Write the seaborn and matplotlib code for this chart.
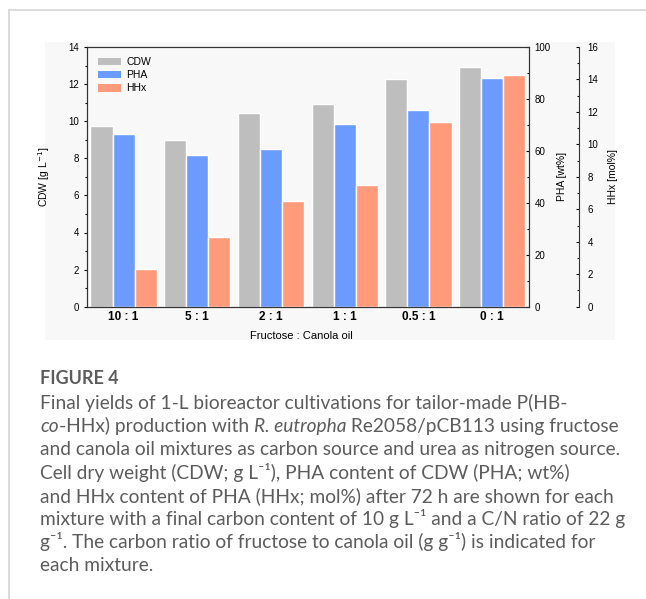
import matplotlib.pyplot as plt
import pandas as pd
import seaborn as sns
from matplotlib.lines import Line2D
from matplotlib.patches import Patch, Rectangle

razoes = ['10 : 1', '5 : 1', '2 : 1', '1 : 1', '0.5 : 1', '0 : 1']
series = ['CDW', 'PHA', 'HHx']
cdw = [9.75, 9.0, 10.45, 10.95, 12.3, 12.9]        # g L-1
pha = [66.5, 58.6, 60.6, 70.4, 75.7, 88.0]         # wt%
hhx = [2.3, 4.3, 6.5, 7.5, 11.4, 14.3]             # mol%
cores = {'CDW': '#bebebe', 'PHA': '#6b9bff', 'HHx': '#ff9a7a'}

dados = pd.DataFrame({
    'razao': razoes * 3,
    'serie': [s for s in series for _ in razoes],
    'valor': cdw + pha + hhx,
})

plt.rcParams['font.family'] = ['Liberation Sans', 'DejaVu Sans']
plt.rcParams['axes.linewidth'] = 0.8

fig = plt.figure(figsize=(6.46, 5.99), dpi=100)

# fundo cinza da imagem e bordas da pagina
fig.add_artist(Rectangle((45 / 646, 1 - 340 / 599), 570 / 646, 298 / 599,
                         transform=fig.transFigure, facecolor='#f8f8f8', edgecolor='none', zorder=0))
fig.add_artist(Line2D([9 / 646, 1], [1 - 10 / 599] * 2, transform=fig.transFigure, color='#d6d6d6', lw=1.2))
fig.add_artist(Line2D([9 / 646] * 2, [0, 1 - 10 / 599], transform=fig.transFigure, color='#d6d6d6', lw=1.2))

ax = fig.add_axes([86.7 / 646, 1 - 306.7 / 599, 442.3 / 646, 259.7 / 599])
ax.set_facecolor('none')
ax2 = ax.twinx()
ax3 = ax.twinx()

for eixo, serie in zip([ax, ax2, ax3], series):
    sns.barplot(data=dados[dados['serie'] == serie], x='razao', y='valor', hue='serie',
                hue_order=series, order=razoes, palette=cores, width=0.9, dodge=True,
                saturation=1, edgecolor='white', linewidth=1, legend=False, ax=eixo)

ax.set_xlim(-0.5, 5.5)
ax.set_ylim(0, 14)
ax2.set_ylim(0, 100)
ax3.set_ylim(0, 16)
ax.set_yticks(range(0, 15, 2))
ax.set_yticks(range(0, 15, 1), minor=True)
ax2.set_yticks(range(0, 101, 20))
ax2.set_yticks(range(0, 101, 10), minor=True)
ax3.set_yticks(range(0, 17, 2))
ax3.set_yticks(range(0, 17, 1), minor=True)

ax.tick_params(axis='y', which='major', direction='out', length=2.5, width=0.8, labelsize=7, pad=3)
ax.tick_params(axis='y', which='minor', direction='out', length=1.5, width=0.8)
ax2.tick_params(axis='y', which='major', direction='in', length=2.5, width=0.8, labelsize=7, pad=4)
ax2.tick_params(axis='y', which='minor', direction='in', length=1.5, width=0.8)
ax3.tick_params(axis='y', which='major', direction='in', length=2.5, width=0.8, labelsize=7, pad=6)
ax3.tick_params(axis='y', which='minor', direction='in', length=1.5, width=0.8)
ax.tick_params(axis='x', length=0, labelsize=8.5, pad=3)
for rotulo in ax.get_xticklabels():
    rotulo.set_fontweight('bold')

ax3.spines['right'].set_position(('outward', 36))
for nome in ['top', 'left', 'bottom']:
    ax3.spines[nome].set_visible(False)
for e in [ax, ax2, ax3]:
    for sp in e.spines.values():
        sp.set_color('#333333')

ax.set_xlabel('Fructose : Canola oil', fontsize=8)
ax.xaxis.set_label_coords(0.485, -0.095)
ax.set_ylabel('CDW [g L$^{-1}$]', fontsize=7.5)
ax.yaxis.set_label_coords(-0.078, 0.5)
ax2.set_ylabel('PHA [wt%]', fontsize=7.5)
ax2.yaxis.set_label_coords(1.063, 0.5)
ax3.set_ylabel('HHx [mol%]', fontsize=7.5)
ax3.yaxis.set_label_coords(1.179, 0.5)

handles = [Patch(facecolor=cores[s], edgecolor='none', label=s) for s in series]
ax3.legend(handles=handles, loc='upper left', bbox_to_anchor=(0.012, 0.985), frameon=False,
           fontsize=7.5, handlelength=2.2, handleheight=0.75, handletextpad=0.5,
           labelspacing=0.3, borderaxespad=0.2)

# legenda da figura
cor_texto = '#5c5c5c'
fonte = ['Lato', 'DejaVu Sans']
fig.text(40 / 646, 1 - 384 / 599, 'FIGURE 4', fontsize=13, fontweight='bold',
         color=cor_texto, family=fonte, va='baseline')

linhas = [
    [('Final yields of 1-L bioreactor cultivations for tailor-made P(HB-', 'normal')],
    [('co', 'italic'), ('-HHx) production with ', 'normal'), ('R. eutropha', 'italic'),
     (' Re2058/pCB113 using fructose', 'normal')],
    [('and canola oil mixtures as carbon source and urea as nitrogen source.', 'normal')],
    [('Cell dry weight (CDW; g L\u207b\u00b9), PHA content of CDW (PHA; wt%)', 'normal')],
    [('and HHx content of PHA (HHx; mol%) after 72 h are shown for each', 'normal')],
    [('mixture with a final carbon content of 10 g L\u207b\u00b9 and a C/N ratio of 22 g', 'normal')],
    [('g\u207b\u00b9. The carbon ratio of fructose to canola oil (g g\u207b\u00b9) is indicated for', 'normal')],
    [('each mixture.', 'normal')],
]
renderer = fig.canvas.get_renderer()
for i, linha in enumerate(linhas):
    x = 40
    y = 409 + i * 23.2
    for trecho, estilo in linha:
        t = fig.text(x / 646, 1 - y / 599, trecho, fontsize=13.75, style=estilo,
                     color=cor_texto, family=fonte, va='baseline')
        x += t.get_window_extent(renderer).width

fig.savefig('out.png', dpi=100)
